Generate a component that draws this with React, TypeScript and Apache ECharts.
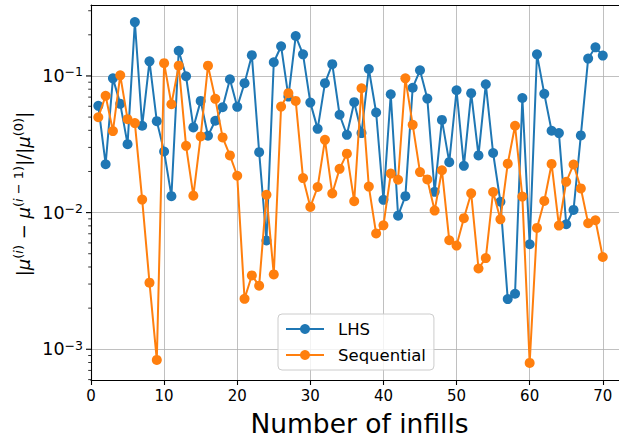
import React, { useEffect, useRef } from 'react';
import * as echarts from 'echarts';

const infills: number[] = Array.from({ length: 70 }, (_, i) => i + 1);

const lhs: number[] = [
  0.0604, 0.0226, 0.096, 0.0625, 0.0317, 0.248, 0.0432, 0.128, 0.0467, 0.028,
  0.0132, 0.153, 0.0995, 0.042, 0.0657, 0.0365, 0.047, 0.059, 0.0946, 0.0594,
  0.0885, 0.142, 0.0277, 0.00625, 0.126, 0.165, 0.0706, 0.196, 0.144, 0.0638,
  0.041, 0.0885, 0.122, 0.052, 0.0371, 0.0643, 0.0382, 0.1125, 0.054, 0.0124,
  0.0735, 0.0095, 0.0132, 0.082, 0.11, 0.0683, 0.0142, 0.0477, 0.0234, 0.0786,
  0.022, 0.0748, 0.0262, 0.087, 0.0273, 0.012, 0.00233, 0.00255, 0.069, 0.00587,
  0.144, 0.074, 0.0397, 0.0382, 0.00822, 0.01046, 0.0367, 0.134, 0.162, 0.141,
];

const sequential: number[] = [
  0.0499, 0.0715, 0.0395, 0.101, 0.0483, 0.0452, 0.01245, 0.00307, 0.000836, 0.124,
  0.0621, 0.119, 0.0308, 0.0133, 0.0361, 0.119, 0.068, 0.0355, 0.0262, 0.0186,
  0.00234, 0.00347, 0.00292, 0.0135, 0.00353, 0.0597, 0.0748, 0.0657, 0.0179, 0.011,
  0.0154, 0.0341, 0.0138, 0.0209, 0.027, 0.0121, 0.0813, 0.0155, 0.00703, 0.00807,
  0.0193, 0.0174, 0.096, 0.0439, 0.0198, 0.0175, 0.01035, 0.0204, 0.00628, 0.00574,
  0.0091, 0.01384, 0.0039, 0.00465, 0.01416, 0.00893, 0.0228, 0.0432, 0.0131, 0.000794,
  0.00773, 0.01217, 0.0227, 0.00804, 0.0168, 0.0225, 0.01504, 0.00836, 0.00879, 0.00473,
];

const seriesNames: string[] = ['LHS', 'Sequential'];
const seriesColors: string[] = ['#1f77b4', '#ff7f0e'];
const xTickInterval = 10;
const majorYTicks: number[] = [1e-3, 1e-2, 1e-1];
const minorMantissas: number[] = [2, 3, 4, 5, 6, 7, 8, 9];
const minorDecades: number[] = [-4, -3, -2, -1];

const FONT = '"DejaVu Sans", "Liberation Sans", sans-serif';

export default function App() {
  const ref = useRef<HTMLDivElement>(null);

  useEffect(() => {
    if (!ref.current) return;
    const chart = echarts.init(ref.current, null, { renderer: 'svg' });

    // matplotlib-like autoscale with 5% margins (in log space for y)
    const all = lhs.concat(sequential);
    const lo = Math.log10(Math.min(...all));
    const hi = Math.log10(Math.max(...all));
    const m = (hi - lo) * 0.05;
    const yMin = Math.pow(10, lo - m);
    const yMax = Math.pow(10, hi + m);
    const xMin = 0;
    const xMax = infills[infills.length - 1] + (infills[infills.length - 1] - infills[0]) * 0.05;

    const gridLeft = 91;
    const gridWidth = 537;

    const yTickFormatter = (v: number) => {
      const e = Math.log10(v);
      const r = Math.round(e);
      if (Math.abs(e - r) > 0.01) return '';
      return `{b|10}{s|${r < 0 ? '−' : ''}${Math.abs(r)}}`;
    };

    const option: any = {
      animation: false,
      grid: {
        left: gridLeft,
        top: 5,
        width: gridWidth,
        bottom: 61,
        containLabel: false,
        outerBoundsMode: 'none',
      },
      xAxis: [
        {
          type: 'value',
          min: xMin,
          max: xMax,
          interval: xTickInterval,
          axisLine: { show: true, onZero: false, lineStyle: { color: '#000', width: 1.1 } },
          axisTick: { show: true, inside: false, length: 5, lineStyle: { color: '#000', width: 1.1 } },
          axisLabel: {
            show: true,
            showMaxLabel: false,
            margin: 8,
            color: '#000',
            fontSize: 15,
            fontFamily: FONT,
          },
          splitLine: { show: true, lineStyle: { color: '#b0b0b0', width: 0.8 } },
        },
        {
          type: 'value',
          position: 'top',
          min: xMin,
          max: xMax,
          interval: xTickInterval,
          axisLine: { show: true, onZero: false, lineStyle: { color: '#000', width: 1.1 } },
          axisTick: { show: false },
          axisLabel: { show: false },
          splitLine: { show: false },
        },
      ],
      yAxis: {
        type: 'log',
        logBase: 10,
        min: yMin,
        max: yMax,
        axisLine: { show: true, onZero: false, lineStyle: { color: '#000', width: 1.1 } },
        axisTick: { show: false },
        axisLabel: {
          show: true,
          showMinLabel: false,
          showMaxLabel: false,
          margin: 8,
          formatter: yTickFormatter,
          rich: {
            b: { fontSize: 17.5, fontFamily: FONT, color: '#000' },
            s: { fontSize: 12.5, fontFamily: FONT, color: '#000', padding: [0, 0, 8, 0] },
          },
        },
        splitLine: { show: true, lineStyle: { color: '#b0b0b0', width: 0.8 } },
        minorTick: { show: false },
      },
      legend: {
        show: true,
        data: seriesNames,
        orient: 'vertical',
        left: 278,
        top: 314,
        itemWidth: 38,
        itemHeight: 12.5,
        itemGap: 6,
        padding: [5, 8, 5, 7],
        borderColor: '#cccccc',
        borderWidth: 1,
        borderRadius: 4,
        backgroundColor: 'rgba(255,255,255,0.8)',
        textStyle: {
          fontSize: 16.5,
          fontFamily: FONT,
          color: '#000',
          lineHeight: 20,
          padding: [0, 0, 0, 9],
        },
      },
      series: [lhs, sequential].map((vals, si) => ({
        name: seriesNames[si],
        type: 'line',
        xAxisIndex: 0,
        yAxisIndex: 0,
        data: infills.map((x, i) => [x, vals[i]]),
        symbol: 'circle',
        symbolSize: 10,
        showSymbol: true,
        color: seriesColors[si],
        lineStyle: { color: seriesColors[si], width: 2 },
        itemStyle: { color: seriesColors[si] },
        emphasis: { disabled: true },
        z: 3 + si,
      })),
    };

    chart.setOption(option);

    const x0 = chart.convertToPixel({ xAxisIndex: 0 }, xMin) as number;
    const graphics: any[] = [];
    majorYTicks.forEach((v, i) => {
      const py = chart.convertToPixel({ yAxisIndex: 0 }, v) as number;
      graphics.push({
        type: 'line',
        id: 'major' + i,
        shape: { x1: x0 - 5, y1: py, x2: x0, y2: py },
        style: { stroke: '#000', lineWidth: 1.1 },
        silent: true,
      });
    });
    minorDecades.forEach((k) => {
      minorMantissas.forEach((mm) => {
        const v = mm * Math.pow(10, k);
        if (v < yMin || v > yMax) return;
        const py = chart.convertToPixel({ yAxisIndex: 0 }, v) as number;
        graphics.push({
          type: 'line',
          id: `minor_${k}_${mm}`,
          shape: { x1: x0 - 2.8, y1: py, x2: x0, y2: py },
          style: { stroke: '#000', lineWidth: 0.8 },
          silent: true,
        });
      });
    });

    graphics.push({
      type: 'text',
      id: 'xtitle',
      x: 359.5,
      y: 423,
      style: {
        text: 'Number of infills',
        fontSize: 26.5,
        fontFamily: FONT,
        fill: '#000',
        align: 'center',
        verticalAlign: 'middle',
      },
      silent: true,
    });

    graphics.push({
      type: 'text',
      id: 'ytitle',
      x: 23,
      y: 194,
      rotation: Math.PI / 2,
      style: {
        text:
          '{n||}{m|μ}{p|(}{q|i}{p|)}{n| − }{m|μ}{p|(}{q|i}{p| − 1)}{n||/|}{m|μ}{p|(0)}{n||}',
        fontSize: 18,
        fontFamily: FONT,
        fill: '#000',
        align: 'center',
        verticalAlign: 'middle',
        rich: {
          n: { fontSize: 18, fontFamily: FONT, fill: '#000', color: '#000' },
          m: { fontSize: 18, fontFamily: FONT, fontStyle: 'italic', fill: '#000', color: '#000' },
          p: { fontSize: 13, fontFamily: FONT, fill: '#000', color: '#000', padding: [0, 0, 10, 0] },
          q: {
            fontSize: 13,
            fontFamily: FONT,
            fontStyle: 'italic',
            fill: '#000',
            color: '#000',
            padding: [0, 0, 10, 0],
          },
        },
      },
      silent: true,
    });

    chart.setOption({ graphic: graphics });

    return () => {
      chart.dispose();
    };
  }, []);

  return (
    <div
      ref={ref}
      style={{ position: 'absolute', left: 0, top: 0, width: 619, height: 441, background: '#fff' }}
    />
  );
}
